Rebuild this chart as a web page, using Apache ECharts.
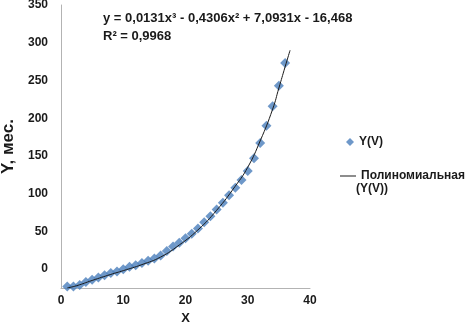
<!DOCTYPE html>
<html>
<head>
<meta charset="utf-8">
<script src="https://cdn.jsdelivr.net/npm/echarts@6/dist/echarts.min.js"></script>
<style>
  html, body { margin: 0; padding: 0; background: #fff; }
  #chart { width: 465px; height: 329px; }
</style>
</head>
<body>
<div id="chart"></div>
<script>
const xValues = [1, 2, 3, 4, 5, 6, 7, 8, 9, 10, 11, 12, 13, 14, 15, 16, 17, 18,
  19, 20, 21, 22, 23, 24, 25, 26, 27, 28, 29, 30, 31, 32, 33, 34, 35, 36];
const yValues = [-23, -23, -21, -17, -14, -11, -8, -5, -3, 0, 3, 5, 8, 11, 14, 18, 24, 30,
  35, 41, 47, 54, 62, 70, 79, 88, 98, 108, 118, 130, 147, 167, 190, 216, 243, 273];

// polynomial trendline as drawn in the picture
const trendX = [1, 2.5, 5, 8, 10, 13, 16, 19, 22, 25, 28, 30, 32, 34, 35, 36, 36.8];
const trendY = [-25, -22, -15, -7, -2, 6, 16, 32, 52, 78, 110, 135, 170, 212, 240, 268, 290];

const xTicks = [0, 10, 20, 30, 40];
const yTicks = [0, 50, 100, 150, 200, 250, 300, 350];

const equationText = 'y = 0,0131x³ - 0,4306x² + 7,0931x - 16,468';
const r2Text = 'R² = 0,9968';
const pointName = 'Y(V)';
const trendName = 'Полиномиальная (Y(V))';

const font = '"Liberation Sans", Arial, sans-serif';

const chart = echarts.init(document.getElementById('chart'));

const option = {
  animation: false,
  grid: { left: 61, right: 155, top: 5, bottom: 41, outerBoundsMode: 'none', containLabel: false },
  xAxis: {
    type: 'value',
    min: 0, max: 40, interval: 10,
    name: 'X',
    nameLocation: 'middle',
    nameGap: 21,
    nameTextStyle: { fontFamily: font, fontWeight: 'bold', fontSize: 13, color: '#1a1a1a' },
    axisLine: { show: true, onZero: false, lineStyle: { color: '#b3b3b3', width: 1 } },
    axisTick: { show: false },
    splitLine: { show: false },
    axisLabel: {
      margin: 7,
      fontFamily: font, fontWeight: 'bold', fontSize: 12, color: '#1a1a1a',
      formatter: v => xTicks.includes(v) ? String(v) : ''
    }
  },
  yAxis: {
    type: 'value',
    min: -25, max: 350, interval: 25,
    name: 'Y, мес.',
    nameLocation: 'middle',
    nameRotate: 90,
    nameGap: 43,
    nameTextStyle: { fontFamily: font, fontWeight: 'bold', fontSize: 17, color: '#1a1a1a' },
    axisLine: { show: true, onZero: false, lineStyle: { color: '#b3b3b3', width: 1 } },
    axisTick: { show: false },
    splitLine: { show: false },
    axisLabel: {
      margin: 13,
      fontFamily: font, fontWeight: 'bold', fontSize: 12, color: '#1a1a1a',
      formatter: v => yTicks.includes(v) ? String(v) : ''
    }
  },
  legend: [
    {
      data: [{ name: pointName, icon: 'diamond' }],
      left: 341, top: 131,
      itemWidth: 8, itemHeight: 8, itemGap: 0,
      textStyle: { fontFamily: font, fontWeight: 'bold', fontSize: 12, color: '#1a1a1a' }
    },
    {
      data: [{ name: trendName, icon: 'rect' }],
      left: 335, top: 165,
      itemWidth: 16, itemHeight: 1, itemGap: 0,
      formatter: n => n.split(' ')[0],
      textStyle: { fontFamily: font, fontWeight: 'bold', fontSize: 12, color: '#1a1a1a' }
    }
  ],
  graphic: [
    {
      type: 'text', left: 103, top: 12,
      style: { text: equationText, font: 'bold 13px ' + font, fill: '#1a1a1a' }
    },
    {
      type: 'text', left: 103, top: 30,
      style: { text: r2Text, font: 'bold 13px ' + font, fill: '#1a1a1a' }
    },
    {
      type: 'text', left: 356, top: 183,
      style: { text: trendName.split(' ')[1], font: 'bold 12px ' + font, fill: '#1a1a1a' }
    }
  ],
  series: [
    {
      name: pointName,
      type: 'scatter',
      symbol: 'diamond',
      symbolSize: 10,
      itemStyle: { color: '#4a7ebb' },
      data: xValues.map((x, i) => [x, yValues[i]]),
      z: 2
    },
    {
      name: trendName,
      type: 'line',
      smooth: true,
      symbol: 'none',
      lineStyle: { color: '#1a1a1a', width: 1 },
      itemStyle: { color: '#1a1a1a' },
      data: trendX.map((x, i) => [x, trendY[i]]),
      z: 3
    }
  ]
};

chart.setOption(option);
</script>
</body>
</html>
